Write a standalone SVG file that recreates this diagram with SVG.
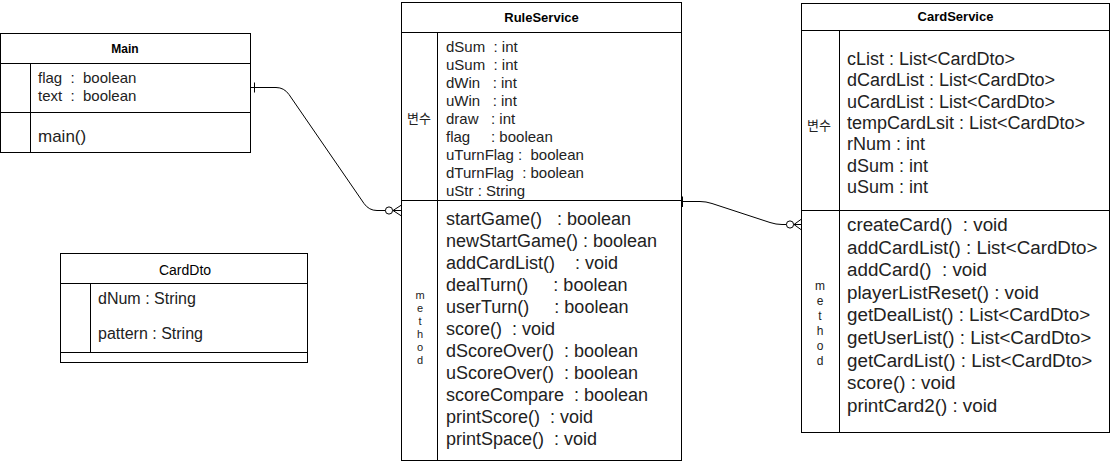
<svg xmlns="http://www.w3.org/2000/svg" width="1111" height="465" viewBox="0 0 1111 465">
<style>
.box{fill:#fff;stroke:#000;stroke-width:1}
.ln{stroke:#000;stroke-width:1;fill:none}
.t{font-family:"Liberation Sans",Arial,sans-serif;fill:#222}
.title{font-family:"Liberation Sans",Arial,sans-serif;font-weight:bold;font-size:13px;fill:#000;text-anchor:middle}
.conn{stroke:#000;stroke-width:1;fill:none}
</style>
<rect width="1111" height="465" fill="#fff"/>

<g id="Main">
<rect class="box" x="0.5" y="33.5" width="250" height="119"/>
<line class="ln" x1="0.5" y1="63.5" x2="250.5" y2="63.5"/>
<line class="ln" x1="0.5" y1="112.5" x2="250.5" y2="112.5"/>
<line class="ln" x1="30.5" y1="63.5" x2="30.5" y2="152.5"/>
<text class="title" x="125" y="52.5" style="font-size:12px">Main</text>
<text class="t" font-size="15" xml:space="preserve"><tspan x="38" y="83">flag  :  boolean</tspan><tspan x="38" y="101">text  :  boolean</tspan></text>
<text class="t" font-size="17" x="38" y="142">main()</text>
</g>

<g id="CardDto">
<rect class="box" x="60.5" y="253.5" width="247" height="109"/>
<line class="ln" x1="60.5" y1="283.5" x2="307.5" y2="283.5"/>
<line class="ln" x1="60.5" y1="352.5" x2="307.5" y2="352.5"/>
<line class="ln" x1="90.5" y1="283.5" x2="90.5" y2="352.5"/>
<text class="t" x="185" y="274.5" font-size="14" text-anchor="middle" style="fill:#000">CardDto</text>
<text class="t" font-size="16"><tspan x="98" y="304">dNum : String</tspan><tspan x="98" y="339">pattern : String</tspan></text>
</g>

<g id="RuleService">
<rect class="box" x="401.5" y="2.5" width="280" height="458"/>
<line class="ln" x1="401.5" y1="32.5" x2="681.5" y2="32.5"/>
<line class="ln" x1="401.5" y1="200.5" x2="681.5" y2="200.5"/>
<line class="ln" x1="437.5" y1="32.5" x2="437.5" y2="460.5"/>
<text class="title" x="541.5" y="21.5">RuleService</text>
<text x="407" y="122.5" font-family="'Noto Sans CJK KR', sans-serif" font-size="13" fill="#222">변수</text>
<text class="t" font-size="15" xml:space="preserve"><tspan x="446" y="52">dSum  : int</tspan><tspan x="446" y="70">uSum  : int</tspan><tspan x="446" y="88">dWin   : int</tspan><tspan x="446" y="106">uWin   : int</tspan><tspan x="446" y="124">draw   : int</tspan><tspan x="446" y="142">flag     : boolean</tspan><tspan x="446" y="160">uTurnFlag :  boolean</tspan><tspan x="446" y="178">dTurnFlag  : boolean</tspan><tspan x="446" y="196">uStr : String</tspan></text>
<text class="t" font-size="11" text-anchor="middle"><tspan x="420" y="299">m</tspan><tspan x="420" y="312">e</tspan><tspan x="420" y="325">t</tspan><tspan x="420" y="338">h</tspan><tspan x="420" y="351">o</tspan><tspan x="420" y="364">d</tspan></text>
<text class="t" font-size="18" xml:space="preserve"><tspan x="446" y="225">startGame()   : boolean</tspan><tspan x="446" y="247">newStartGame() : boolean</tspan><tspan x="446" y="269">addCardList()    : void</tspan><tspan x="446" y="291">dealTurn()     : boolean</tspan><tspan x="446" y="313">userTurn()     : boolean</tspan><tspan x="446" y="335">score()  : void</tspan><tspan x="446" y="357">dScoreOver()  : boolean</tspan><tspan x="446" y="379">uScoreOver()  : boolean</tspan><tspan x="446" y="401">scoreCompare  : boolean</tspan><tspan x="446" y="423">printScore()  : void</tspan><tspan x="446" y="445">printSpace()  : void</tspan></text>
</g>

<g id="CardService">
<rect class="box" x="801.5" y="3.5" width="308" height="429"/>
<line class="ln" x1="801.5" y1="30.5" x2="1109.5" y2="30.5"/>
<line class="ln" x1="801.5" y1="210.5" x2="1109.5" y2="210.5"/>
<line class="ln" x1="839.5" y1="30.5" x2="839.5" y2="432.5"/>
<text class="title" x="955.5" y="21">CardService</text>
<text x="807" y="129.5" font-family="'Noto Sans CJK KR', sans-serif" font-size="13" fill="#222">변수</text>
<text class="t" font-size="18"><tspan x="847" y="65">cList : List&lt;CardDto&gt;</tspan><tspan x="847" y="86.3">dCardList : List&lt;CardDto&gt;</tspan><tspan x="847" y="107.6">uCardList : List&lt;CardDto&gt;</tspan><tspan x="847" y="128.9">tempCardLsit : List&lt;CardDto&gt;</tspan><tspan x="847" y="150.2">rNum : int</tspan><tspan x="847" y="171.5">dSum : int</tspan><tspan x="847" y="192.8">uSum : int</tspan></text>
<text class="t" font-size="12" text-anchor="middle"><tspan x="820" y="289.5">m</tspan><tspan x="820" y="304.5">e</tspan><tspan x="820" y="319.5">t</tspan><tspan x="820" y="334.5">h</tspan><tspan x="820" y="349.5">o</tspan><tspan x="820" y="364.5">d</tspan></text>
<text class="t" font-size="18.8" xml:space="preserve"><tspan x="847" y="231">createCard()  : void</tspan><tspan x="847" y="253.6">addCardList() : List&lt;CardDto&gt;</tspan><tspan x="847" y="276.2">addCard()  : void</tspan><tspan x="847" y="298.8">playerListReset() : void</tspan><tspan x="847" y="321.4">getDealList() : List&lt;CardDto&gt;</tspan><tspan x="847" y="344">getUserList() : List&lt;CardDto&gt;</tspan><tspan x="847" y="366.6">getCardList() : List&lt;CardDto&gt;</tspan><tspan x="847" y="389.2">score() : void</tspan><tspan x="847" y="411.8">printCard2() : void</tspan></text>
</g>

<g id="connectors">
<path class="conn" d="M250.5,87.5 L276,87.5 Q284,87.5 289,94.5 L364,203.5 Q369,210.5 377,210.5 L401.5,210.5"/>
<line class="conn" x1="254.5" y1="82.5" x2="254.5" y2="92.5"/>
<circle cx="389" cy="210.5" r="3.6" fill="#fff" stroke="#000" stroke-width="1"/>
<path class="conn" d="M393,210.5 L401.5,205 M393,210.5 L401.5,216"/>

<path class="conn" d="M681.5,201.5 L700,201.5 Q706,201.5 712,203.5 L770,222.5 Q776,224.5 782,224.5 L801.5,224.5"/>
<line class="conn" x1="682.5" y1="196.5" x2="682.5" y2="207" stroke-width="1.5"/>
<circle cx="790" cy="224.5" r="3.6" fill="#fff" stroke="#000" stroke-width="1"/>
<path class="conn" d="M794,224.5 L801.5,219 M794,224.5 L801.5,230"/>
</g>
</svg>
